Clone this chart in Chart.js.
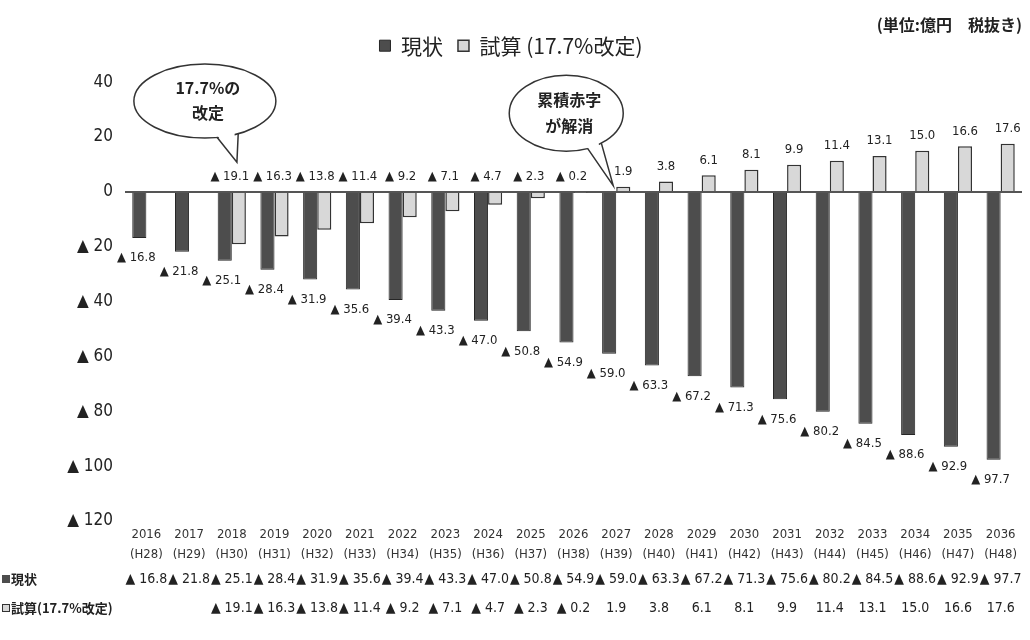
<!DOCTYPE html>
<html><head><meta charset="utf-8">
<script src="https://cdn.jsdelivr.net/npm/chart.js@4.4.1/dist/chart.umd.min.js"></script>
<style>html,body{margin:0;padding:0;background:#fff;}#wrap{width:1030px;height:640px;}</style>
</head><body><div id="wrap"><canvas id="c" width="1030" height="640"></canvas></div>
<script>
const years = ['2016','2017','2018','2019','2020','2021','2022','2023','2024','2025','2026','2027','2028','2029','2030','2031','2032','2033','2034','2035','2036'];
const heisei = ['(H28)','(H29)','(H30)','(H31)','(H32)','(H33)','(H34)','(H35)','(H36)','(H37)','(H38)','(H39)','(H40)','(H41)','(H42)','(H43)','(H44)','(H45)','(H46)','(H47)','(H48)'];
const genjo = [-16.8,-21.8,-25.1,-28.4,-31.9,-35.6,-39.4,-43.3,-47.0,-50.8,-54.9,-59.0,-63.3,-67.2,-71.3,-75.6,-80.2,-84.5,-88.6,-92.9,-97.7];
const shisan = [null,null,-19.1,-16.3,-13.8,-11.4,-9.2,-7.1,-4.7,-2.3,-0.2,1.9,3.8,6.1,8.1,9.9,11.4,13.1,15.0,16.6,17.6];
const seriesNames = ['現状','試算 (17.7%改定)'];
const unitText = '(単位:億円　税抜き)';
const yMin = -120, yMax = 40, yStep = 20;

const CJK = '"Noto Sans CJK JP"';
const NUM = '"Liberation Sans Narrow", "DejaVu Sans Condensed", "Liberation Sans", ' + CJK;
const fmt = v => v < 0 ? '▲ ' + (-v).toFixed(1) : v.toFixed(1);

const darkFill = '#4d4d4d', darkBorder = '#262626';
const lightFill = '#d8d8d8', lightBorder = '#333333';

function bubble(ctx, cx, cy, rx, ry, a1, a2, tx, ty, lines, dy) {
  ctx.save();
  ctx.lineWidth = 1.5; ctx.strokeStyle = '#333'; ctx.fillStyle = '#fff';
  ctx.beginPath(); ctx.ellipse(cx, cy, rx, ry, 0, 0, Math.PI * 2); ctx.fill(); ctx.stroke();
  const r1 = a1 * Math.PI / 180, r2 = a2 * Math.PI / 180;
  const p1 = [cx + rx * Math.cos(r1), cy + ry * Math.sin(r1)];
  const p2 = [cx + rx * Math.cos(r2), cy + ry * Math.sin(r2)];
  ctx.beginPath();
  ctx.moveTo(cx + (p1[0] - cx) * 0.88, cy + (p1[1] - cy) * 0.88);
  ctx.lineTo(tx, ty);
  ctx.lineTo(cx + (p2[0] - cx) * 0.88, cy + (p2[1] - cy) * 0.88);
  ctx.closePath(); ctx.fill();
  ctx.beginPath(); ctx.moveTo(p1[0], p1[1]); ctx.lineTo(tx, ty); ctx.lineTo(p2[0], p2[1]); ctx.stroke();
  ctx.fillStyle = '#222'; ctx.textAlign = 'center'; ctx.textBaseline = 'middle';
  ctx.font = 'bold 16px ' + CJK;
  lines.forEach((t, k) => ctx.fillText(t, cx + 3, cy + dy[k]));
  ctx.restore();
}

const overlay = {
  id: 'overlay',
  afterDatasetsDraw(chart) {
    const { ctx, scales: { x, y } } = chart;
    const m0 = chart.getDatasetMeta(0), m1 = chart.getDatasetMeta(1);
    ctx.save();
    ctx.fillStyle = '#222'; ctx.textAlign = 'center'; ctx.textBaseline = 'middle';
    ctx.font = '13px ' + NUM;
    m0.data.forEach((bar, i) => {
      ctx.fillText(fmt(genjo[i]), bar.x - 3, bar.y + 20);
    });
    m1.data.forEach((bar, i) => {
      const v = shisan[i];
      if (v == null) return;
      if (v < 0) ctx.fillText(fmt(v), x.getPixelForValue(i) - 2, y.getPixelForValue(0) - 15);
      else ctx.fillText(fmt(v), bar.x, bar.y - 15);
    });
    // data table
    const rowY = [579, 608];
    ctx.font = '14px ' + NUM;
    genjo.forEach((v, i) => ctx.fillText(fmt(v), x.getPixelForValue(i), rowY[0]));
    shisan.forEach((v, i) => { if (v != null) ctx.fillText(fmt(v), x.getPixelForValue(i), rowY[1]); });
    // row labels
    ctx.textAlign = 'left';
    ctx.font = 'bold 13px ' + CJK;
    ctx.fillStyle = darkFill; ctx.fillRect(2, rowY[0] - 4, 8, 8);
    ctx.fillStyle = lightFill; ctx.fillRect(2, rowY[1] - 4, 8, 8);
    ctx.strokeStyle = lightBorder; ctx.lineWidth = 1; ctx.strokeRect(2.5, rowY[1] - 3.5, 7, 7);
    ctx.fillStyle = '#222';
    ctx.fillText(seriesNames[0], 11, rowY[0]);
    ctx.fillText(seriesNames[1].replace(' ', ''), 11, rowY[1]);
    ctx.restore();
    // callouts
    bubble(ctx, x.getPixelForValue(1.37), y.getPixelForValue(33.1), 71, 37, 62, 80,
      x.getPixelForValue(2.12), y.getPixelForValue(10.8), ['17.7%の', '改定'], [-13, 12]);
    bubble(ctx, x.getPixelForValue(9.83), y.getPixelForValue(28.7), 57, 38, 52, 68,
      x.getPixelForValue(10.93), y.getPixelForValue(2.3), ['累積赤字', 'が解消'], [-13, 13]);
  }
};

new Chart(document.getElementById('c'), {
  type: 'bar',
  data: {
    labels: years,
    datasets: [
      { label: seriesNames[0], data: genjo, backgroundColor: darkFill, borderColor: darkBorder, borderWidth: 1 },
      { label: seriesNames[1], data: shisan, backgroundColor: lightFill, borderColor: lightBorder, borderWidth: 1.5 }
    ]
  },
  options: {
    responsive: false, animation: false, devicePixelRatio: 1,
    layout: { padding: { left: 0, right: 8, top: 0, bottom: 0 } },
    datasets: { bar: { categoryPercentage: 0.66, barPercentage: 1.0 } },
    plugins: {
      tooltip: { enabled: false },
      title: { display: true, text: unitText, align: 'end', color: '#222',
        font: { family: CJK, size: 16, weight: 'bold' }, padding: { top: 15, bottom: -14 } },
      legend: { display: true, position: 'top',
        labels: { color: '#222', font: { family: CJK, size: 21 }, boxWidth: 11, boxHeight: 11, padding: 15 } },
      subtitle: { display: true, text: '', weight: 500, font: { size: 10 }, padding: { top: 4, bottom: 0 } }
    },
    scales: {
      x: {
        grid: { display: false, drawTicks: false }, border: { display: false },
        ticks: { autoSkip: false, maxRotation: 0, minRotation: 0, padding: 4, color: '#333',
          font: { family: NUM, size: 13, lineHeight: 1.54 },
          callback: (v, i) => [years[i], heisei[i]] },
        afterFit: s => { s.height = 119; }
      },
      y: {
        min: yMin, max: yMax,
        border: { display: false },
        grid: { drawTicks: false,
          color: c => (c.tick && c.tick.value === 0) ? '#555' : 'rgba(0,0,0,0)',
          lineWidth: c => (c.tick && c.tick.value === 0) ? 2 : 0 },
        ticks: { stepSize: yStep, padding: 12, color: '#222', font: { family: NUM, size: 17 },
          callback: v => v < 0 ? '▲ ' + (-v) : String(v) },
        afterFit: s => { s.width = 125; }
      }
    }
  },
  plugins: [overlay]
});
</script></body></html>
